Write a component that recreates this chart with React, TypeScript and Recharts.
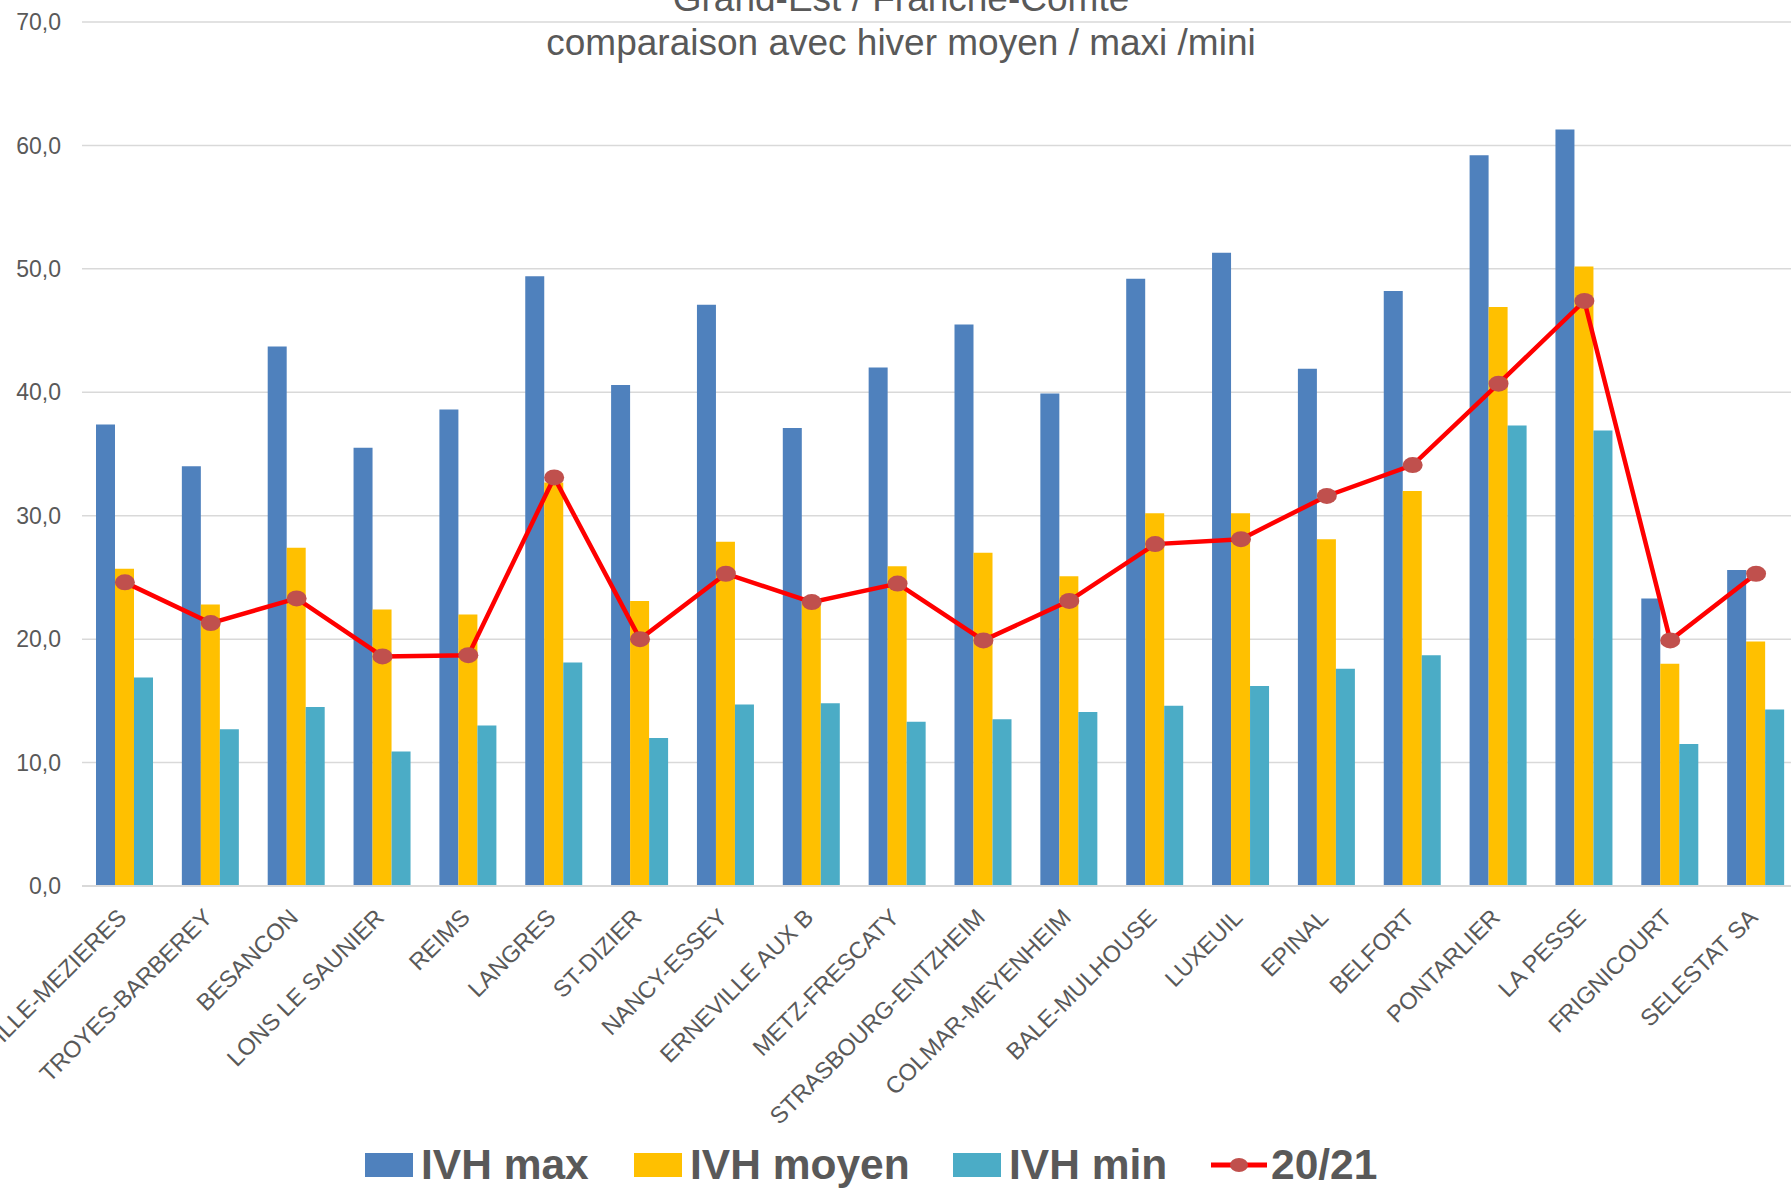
import React from 'react';
import { ComposedChart, Bar, Line, XAxis, YAxis, CartesianGrid } from 'recharts';

const stations = [
  'CHARLEVILLE-MEZIERES', 'TROYES-BARBEREY', 'BESANCON', 'LONS LE SAUNIER', 'REIMS',
  'LANGRES', 'ST-DIZIER', 'NANCY-ESSEY', 'ERNEVILLE AUX B', 'METZ-FRESCATY',
  'STRASBOURG-ENTZHEIM', 'COLMAR-MEYENHEIM', 'BALE-MULHOUSE', 'LUXEUIL', 'EPINAL',
  'BELFORT', 'PONTARLIER', 'LA PESSE', 'FRIGNICOURT', 'SELESTAT SA',
];
const ivhMax = [37.4, 34.0, 43.7, 35.5, 38.6, 49.4, 40.6, 47.1, 37.1, 42.0, 45.5, 39.9, 49.2, 51.3, 41.9, 48.2, 59.2, 61.3, 23.3, 25.6];
const ivhMoyen = [25.7, 22.8, 27.4, 22.4, 22.0, 32.7, 23.1, 27.9, 23.2, 25.9, 27.0, 25.1, 30.2, 30.2, 28.1, 32.0, 46.9, 50.2, 18.0, 19.8];
const ivhMin = [16.9, 12.7, 14.5, 10.9, 13.0, 18.1, 12.0, 14.7, 14.8, 13.3, 13.5, 14.1, 14.6, 16.2, 17.6, 18.7, 37.3, 36.9, 11.5, 14.3];
const saison2021 = [24.6, 21.3, 23.3, 18.6, 18.7, 33.1, 20.0, 25.3, 23.0, 24.5, 19.9, 23.1, 27.7, 28.1, 31.6, 34.1, 40.7, 47.4, 19.9, 25.3];
const yTicks = [0, 10, 20, 30, 40, 50, 60, 70];

const data = stations.map((name, i) => ({
  name,
  max: ivhMax[i],
  moyen: ivhMoyen[i],
  min: ivhMin[i],
  cur: saison2021[i],
}));

const FONT = '"Liberation Sans", Arial, sans-serif';
const GREY = '#595959';

const XTick = (props: any) => {
  const { x, y, payload } = props;
  return (
    <g transform={`translate(${x + 3},${y + 33})`}>
      <text textAnchor="end" transform="rotate(-45)" fill={GREY} fontSize={23.5} fontFamily={FONT}>
        {payload.value}
      </text>
    </g>
  );
};

const Dot = (props: any) => {
  const { cx, cy } = props;
  return <ellipse cx={cx} cy={cy} rx={10} ry={8} fill="#C0504D" />;
};

const legendItems = [
  { label: 'IVH max', color: '#4F81BD', left: 365, type: 'box' },
  { label: 'IVH moyen', color: '#FFC000', left: 634, type: 'box' },
  { label: 'IVH min', color: '#4BACC6', left: 953, type: 'box' },
  { label: '20/21', color: '#FF0000', left: 1211, type: 'line' },
];

export default function App() {
  return (
    <div style={{ position: 'absolute', left: 0, top: 0, width: 1791, height: 1188, overflow: 'hidden', background: '#fff' }}>
      <ComposedChart
        width={1820}
        height={1188}
        data={data}
        margin={{ top: 22, right: 21, left: 0, bottom: 102 }}
        barGap={0}
      >
        <CartesianGrid vertical={false} stroke="#D9D9D9" strokeWidth={1.5} />
        <XAxis
          dataKey="name"
          interval={0}
          height={200}
          tickSize={0}
          tickMargin={0}
          tickLine={false}
          axisLine={{ stroke: '#D9D9D9', strokeWidth: 2 }}
          tick={<XTick />}
        />
        <YAxis
          width={82}
          domain={[0, 70]}
          ticks={yTicks}
          tickSize={0}
          tickMargin={21}
          tickLine={false}
          axisLine={false}
          tick={{ fill: GREY, fontSize: 23, fontFamily: FONT }}
          tickFormatter={(v: number) => v.toFixed(1).replace('.', ',')}
        />
        <Bar dataKey="max" name="IVH max" fill="#4F81BD" barSize={19} isAnimationActive={false} />
        <Bar dataKey="moyen" name="IVH moyen" fill="#FFC000" barSize={19} isAnimationActive={false} />
        <Bar dataKey="min" name="IVH min" fill="#4BACC6" barSize={19} isAnimationActive={false} />
        <Line
          dataKey="cur"
          name="20/21"
          stroke="#FF0000"
          strokeWidth={4.5}
          dot={<Dot />}
          activeDot={false}
          isAnimationActive={false}
        />
      </ComposedChart>

      <div style={{ position: 'absolute', left: 0, width: 1802, top: -23, textAlign: 'center', fontFamily: FONT, fontSize: 37, color: GREY, lineHeight: '44px' }}>
        Grand-Est / Franche-Comte
      </div>
      <div style={{ position: 'absolute', left: 0, width: 1802, top: 21, textAlign: 'center', fontFamily: FONT, fontSize: 37, color: GREY, lineHeight: '44px' }}>
        comparaison avec hiver moyen / maxi /mini
      </div>

      {legendItems.map((it) => (
        <div key={it.label} style={{ position: 'absolute', left: it.left, top: 1140, height: 50, display: 'flex', alignItems: 'center', fontFamily: FONT, fontWeight: 'bold', fontSize: 42.5, color: GREY }}>
          {it.type === 'box' ? (
            <span style={{ display: 'inline-block', width: 48, height: 24, background: it.color, marginRight: 8 }} />
          ) : (
            <svg width={56} height={24} style={{ marginRight: 4 }}>
              <line x1={0} y1={12} x2={56} y2={12} stroke={it.color} strokeWidth={5} />
              <ellipse cx={28} cy={12} rx={9} ry={7} fill="#C0504D" />
            </svg>
          )}
          <span>{it.label}</span>
        </div>
      ))}
    </div>
  );
}
